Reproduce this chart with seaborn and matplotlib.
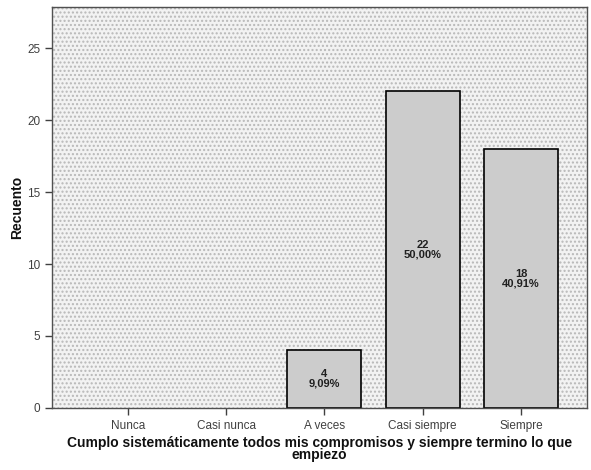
import matplotlib.pyplot as plt
import seaborn as sns
import pandas as pd
from matplotlib.patches import Rectangle

categorias = ['Nunca', 'Casi nunca', 'A veces', 'Casi siempre', 'Siempre']
recuento = [0, 0, 4, 22, 18]
porcentajes = ['', '', '9,09%', '50,00%', '40,91%']

df = pd.DataFrame({'CATEGORIA': categorias, 'RECUENTO': recuento})

sns.set_style("white")
plt.rcParams['font.family'] = ['Liberation Sans', 'DejaVu Sans']
plt.rcParams['hatch.linewidth'] = 1.0

fig = plt.figure(figsize=(5.91, 4.70), dpi=100)
ax = fig.add_axes([0.088, 0.132, 0.905, 0.853])

# fondo punteado estilo SPSS
ax.add_patch(Rectangle((0, 0), 1, 1, transform=ax.transAxes,
                       facecolor='#f2f2f2', edgecolor='#b8b8b8',
                       hatch='....', linewidth=0, zorder=0))

sns.barplot(
    data=df,
    x='CATEGORIA',
    y='RECUENTO',
    color='#cccccc',
    edgecolor='black',
    linewidth=1.2,
    width=0.75,
    saturation=1,
    ax=ax,
    zorder=2
)

for p, n, pct in zip(ax.patches[-len(recuento):], recuento, porcentajes):
    if n == 0:
        p.set_visible(False)
        continue
    ax.text(p.get_x() + p.get_width() / 2, n / 2, f'{n}\n{pct}',
            ha='center', va='center', fontsize=8, fontweight='bold',
            color='#202020', linespacing=0.95, zorder=3)

ax.set_xlim(-0.77, 4.67)
ax.set_ylim(0, 27.85)
ax.set_yticks([0, 5, 10, 15, 20, 25])

ax.set_xlabel('Cumplo sistemáticamente todos mis compromisos y siempre termino lo que\nempiezo',
              fontsize=10, fontweight='bold', linespacing=0.85, labelpad=3,
              color='#101010')
ax.set_ylabel('Recuento', fontsize=10, fontweight='bold', labelpad=2,
              color='#101010')

ax.tick_params(axis='both', which='major', direction='out', length=5, width=1,
               color='#404040', labelsize=8.5, labelcolor='#404040', left=True, bottom=True)

for s in ax.spines.values():
    s.set_color('#505050')
    s.set_linewidth(1.0)
    s.set_zorder(4)

plt.savefig('out.png', dpi=100)
plt.close()
